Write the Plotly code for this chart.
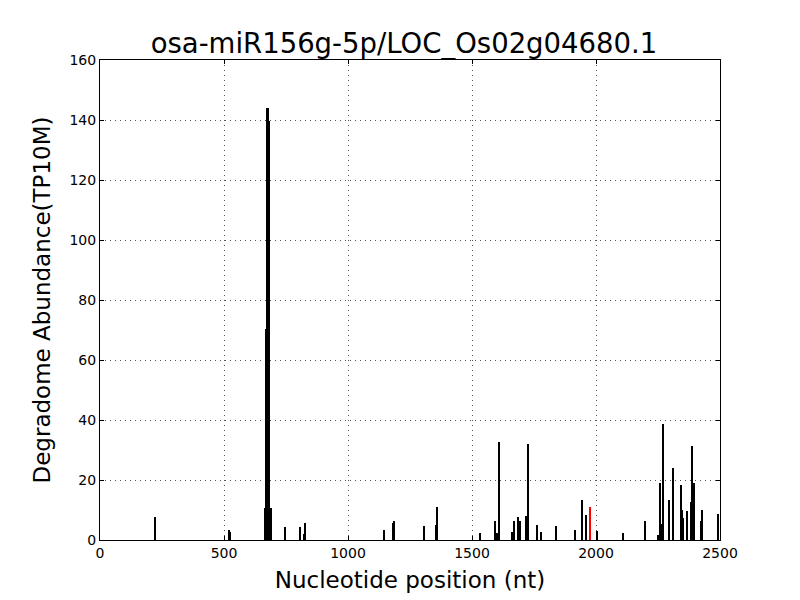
import plotly.graph_objects as go

# Black bars: nucleotide position and abundance
positions = [223, 521, 525, 666, 670, 674, 678, 682, 690, 747, 806, 823, 828,
             1146, 1183, 1187, 1308, 1356, 1360, 1533, 1594, 1600, 1610,
             1663, 1669, 1686, 1693, 1719, 1727, 1763, 1779, 1840, 1917,
             1944, 1960, 2005, 2110, 2199, 2251, 2259, 2266, 2271, 2296,
             2312, 2344, 2348, 2352, 2368, 2384, 2388, 2392, 2396, 2425,
             2429, 2493]
abundance = [7.6, 3.2, 2.6, 10.6, 70.5, 144, 144, 139.6, 10.6, 4.4, 4.4, 1.9, 5.6,
             3.2, 5.8, 6.2, 4.6, 5.1, 10.9, 2.2, 6.2, 2.4, 32.8,
             2.8, 6.2, 7.6, 6.2, 7.9, 31.9, 5.1, 2.6, 4.6, 3.2,
             13.2, 8.2, 3.1, 2.2, 6.4, 1.6, 18.9, 5.2, 38.6, 13.2,
             23.9, 18.2, 9.9, 7.2, 9.6, 12.6, 31.2, 15.2, 18.9, 6.2,
             9.9, 8.6]

# Red (cleavage site) bar
site_position = [1977]
site_abundance = [10.9]

title = "osa-miR156g-5p/LOC_Os02g04680.1"
x_label = "Nucleotide position (nt)"
y_label = "Degradome Abundance(TP10M)"
x_ticks = [0, 500, 1000, 1500, 2000, 2500]
y_ticks = [0, 20, 40, 60, 80, 100, 120, 140, 160]

fig = go.Figure()
fig.add_trace(go.Bar(x=positions, y=abundance, width=6,
                     marker=dict(color="black", line=dict(width=0)),
                     showlegend=False))
fig.add_trace(go.Bar(x=site_position, y=site_abundance, width=6,
                     marker=dict(color="red", line=dict(width=0)),
                     showlegend=False))

axis_common = dict(
    showline=True, linecolor="black", linewidth=1, mirror="allticks",
    ticks="inside", ticklen=4, tickcolor="black", tickwidth=1,
    showgrid=True, gridcolor="#555", griddash="1px,4px", gridwidth=1,
    zeroline=False,
    tickfont=dict(family="DejaVu Sans", size=14, color="black"),
)

# page body has an 8px margin, so the figure is 792x592 placed at (8, 8)
fig.update_layout(
    width=792, height=592,
    paper_bgcolor="white", plot_bgcolor="white",
    margin=dict(l=92, r=80, t=52, b=60),
    bargap=0, barmode="overlay",
    font=dict(family="DejaVu Sans", color="black"),
    title=dict(text=title, x=0.5, xanchor="center", y=1 - 35 / 592, yanchor="middle",
               font=dict(family="DejaVu Sans", size=27.5, color="black")),
    xaxis=dict(range=[0, 2500], tickvals=x_ticks,
               title=dict(text=x_label, font=dict(family="DejaVu Sans", size=23), standoff=12),
               **axis_common),
    yaxis=dict(range=[0, 160], tickvals=y_ticks,
               title=dict(text=y_label, font=dict(family="DejaVu Sans", size=23), standoff=12),
               **axis_common),
)

fig.write_html("out.html")
